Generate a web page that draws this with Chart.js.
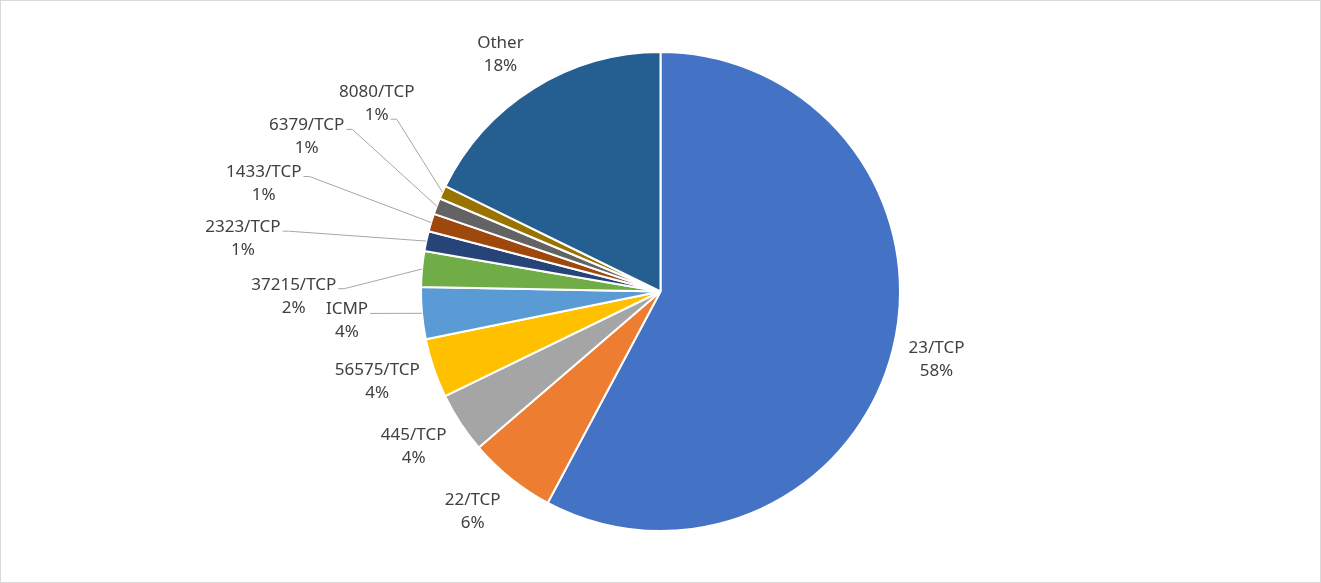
<!DOCTYPE html>
<html>
<head>
<meta charset="utf-8">
<title>Traffic by port</title>
<script src="https://cdn.jsdelivr.net/npm/chart.js@4.4.1/dist/chart.umd.min.js"></script>
<style>
  html, body { margin: 0; padding: 0; background: #fff; }
  #wrap { width: 1319px; height: 581px; border: 1px solid #d9d9d9; }
</style>
</head>
<body>
<div id="wrap"><canvas id="portChart" width="1319" height="581"></canvas></div>
<script>
// data (share of traffic, %)
const ports = ["23/TCP", "22/TCP", "445/TCP", "56575/TCP", "ICMP", "37215/TCP",
               "2323/TCP", "1433/TCP", "6379/TCP", "8080/TCP", "Other"];
const shares = [57.8, 5.9, 4.1, 4.0, 3.5, 2.4, 1.35, 1.2, 1.1, 0.9, 17.75];

// Office theme colours
const sliceColors = ["#4472c4", "#ed7d31", "#a5a5a5", "#ffc000", "#5b9bd5", "#70ad47",
                     "#264478", "#9e480e", "#636363", "#997300", "#255e91"];

// labels moved off their default spot; leader: draw a leader line from that text line
const labelShift = {
  "22/TCP":    { dx: -10, dy: 2 },
  "445/TCP":   { dx: -5, dy: 2 },
  "Other":     { dx: -12, dy: 0 },
  "ICMP":      { dx: -37, dy: 4,   leader: 0 },
  "37215/TCP": { dx: -69, dy: 31,  leader: 0 },
  "2323/TCP":  { dx: -130, dy: 6,  leader: 0 },
  "1433/TCP":  { dx: -115, dy: -27, leader: 0 },
  "6379/TCP":  { dx: -79, dy: -55, leader: 0 },
  "8080/TCP":  { dx: -16, dy: -72, leader: 1 }
};

const labelFont = '17px "Noto Sans", sans-serif';
const lineHeight = 23;
const labelGap = 17;

const total = shares.reduce((a, b) => a + b, 0);

const pieLabels = {
  id: "pieLabels",
  afterDatasetsDraw(chart) {
    const ctx = chart.ctx;
    const meta = chart.getDatasetMeta(0);
    ctx.save();
    ctx.font = labelFont;
    ctx.textAlign = "center";
    ctx.textBaseline = "middle";
    meta.data.forEach((arc, i) => {
      const p = arc.getProps(["x", "y", "startAngle", "endAngle", "outerRadius"], true);
      const mid = (p.startAngle + p.endAngle) / 2;
      const ux = Math.cos(mid), uy = Math.sin(mid);
      const lines = [ports[i], Math.round(shares[i] / total * 100) + "%"];
      const widths = lines.map(t => ctx.measureText(t).width);
      const w = Math.max(...widths);
      const h = lines.length * lineHeight;
      let cx = p.x + ux * (p.outerRadius + labelGap) + ux * w / 2;
      let cy = p.y + uy * (p.outerRadius + labelGap) + uy * h / 2;
      const shift = labelShift[ports[i]];
      if (shift) {
        cx += shift.dx;
        cy += shift.dy;
        if (shift.leader !== undefined) {
          const ly = cy - h / 2 + lineHeight * (shift.leader + 0.5) + 4;
          const lx = cx + widths[shift.leader] / 2 + 2;
          ctx.strokeStyle = "#a6a6a6";
          ctx.lineWidth = 1;
          ctx.beginPath();
          ctx.moveTo(lx, ly);
          ctx.lineTo(lx + 6, ly);
          ctx.lineTo(p.x + ux * p.outerRadius, p.y + uy * p.outerRadius);
          ctx.stroke();
        }
      }
      ctx.fillStyle = "#404040";
      lines.forEach((t, k) => {
        ctx.fillText(t, cx, cy - h / 2 + lineHeight * (k + 0.5));
      });
    });
    ctx.restore();
  }
};

new Chart(document.getElementById("portChart"), {
  type: "pie",
  data: {
    labels: ports,
    datasets: [{
      data: shares,
      backgroundColor: sliceColors,
      borderColor: "#ffffff",
      borderWidth: 2,
      hoverOffset: 0
    }]
  },
  options: {
    responsive: false,
    animation: false,
    events: [],
    radius: 239.5,
    layout: { padding: 0 },
    plugins: {
      legend: { display: false },
      tooltip: { enabled: false }
    }
  },
  plugins: [pieLabels]
});
</script>
</body>
</html>
